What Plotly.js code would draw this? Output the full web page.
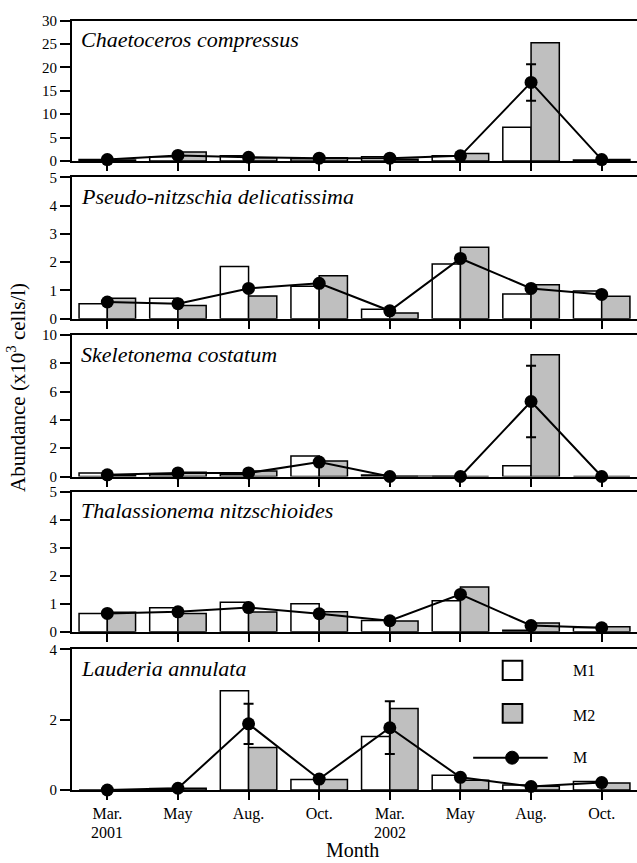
<!DOCTYPE html>
<html>
<head>
<meta charset="utf-8">
<script src="https://cdn.plot.ly/plotly-3.0.1.min.js"></script>
<style>html,body{margin:0;padding:0;background:#fff}#chart{width:637px;height:863px}</style>
</head>
<body>
<div id="chart"></div>
<script>
// Months (tick labels) and category positions
var months = ['Mar.','May','Aug.','Oct.','Mar.','May','Aug.','Oct.'];
var monthIndex = [0,1,2,3,4,5,6,7];
var years = ['2001','2002'];
var yearIndex = [0,4];

// Species names
var species = ['Chaetoceros compressus','Pseudo-nitzschia delicatissima','Skeletonema costatum','Thalassionema nitzschioides','Lauderia annulata'];

// Chaetoceros compressus
var chaeM1 = [0.3, 0.9, 1.1, 0.5, 0.9, 1.1, 7.2, 0.2];
var chaeM2 = [0.2, 1.9, 0.7, 0.7, 0.4, 1.6, 25.3, 0.3];
var chaeM  = [0.3, 1.2, 0.8, 0.6, 0.6, 1.1, 16.8, 0.3];
var chaeErr = [null, null, null, null, null, null, 3.9, null];

// Pseudo-nitzschia delicatissima
var pseuM1 = [0.53, 0.72, 1.85, 1.15, 0.33, 1.93, 0.87, 0.98];
var pseuM2 = [0.72, 0.47, 0.80, 1.52, 0.20, 2.53, 1.20, 0.79];
var pseuM  = [0.59, 0.53, 1.07, 1.25, 0.28, 2.13, 1.07, 0.86];
var pseuErr = [null, null, null, null, null, null, null, null];

// Skeletonema costatum
var skelM1 = [0.25, 0.15, 0.15, 1.44, 0.1, 0, 0.76, 0];
var skelM2 = [0.05, 0.30, 0.38, 1.09, 0, 0, 8.6, 0];
var skelM  = [0.12, 0.25, 0.25, 1.02, 0, 0, 5.3, 0];
var skelErr = [null, null, null, null, null, null, 2.53, null];

// Thalassionema nitzschioides
var thalM1 = [0.65, 0.85, 1.05, 1.00, 0.40, 1.10, 0.05, 0.15];
var thalM2 = [0.69, 0.65, 0.70, 0.71, 0.38, 1.59, 0.31, 0.18];
var thalM  = [0.65, 0.71, 0.86, 0.64, 0.39, 1.33, 0.22, 0.14];
var thalErr = [null, null, null, null, null, null, null, null];

// Lauderia annulata
var laudM1 = [0, 0.04, 2.82, 0.30, 1.52, 0.42, 0.14, 0.24];
var laudM2 = [0, 0.05, 1.21, 0.30, 2.32, 0.28, 0.11, 0.20];
var laudM  = [0, 0.05, 1.88, 0.31, 1.77, 0.36, 0.10, 0.21];
var laudErr = [null, null, 0.57, null, 0.75, null, null, null];

// Axis maxima and tick steps per panel
var yMax = [30, 5, 10, 5, 4];
var yStep = [5, 1, 2, 1, 2];

var panels = [
  [chaeM1, chaeM2, chaeM, chaeErr],
  [pseuM1, pseuM2, pseuM, pseuErr],
  [skelM1, skelM2, skelM, skelErr],
  [thalM1, thalM2, thalM, thalErr],
  [laudM1, laudM2, laudM, laudErr]
];

var H = 863;
// pixel positions (top, bottom) of each panel
var pix = [[20.7,161],[177.3,318.7],[335,476.5],[491.5,631.7],[649.3,790]];

var SERIF = '"Liberation Serif", "Times New Roman", Times, serif';
var traces = [];
var layout = {
  width: 637, height: 863,
  margin: {l: 72, r: 0, t: 0, b: 0},
  paper_bgcolor: '#fff', plot_bgcolor: '#fff',
  showlegend: false,
  barmode: 'group', bargap: 0.2, bargroupgap: 0,
  font: {family: SERIF, color: '#000', size: 15},
  annotations: [], shapes: []
};

panels.forEach(function(p, k) {
  var n = k + 1;
  var xa = 'x' + (n === 1 ? '' : n), ya = 'y' + (n === 1 ? '' : n);
  traces.push({type: 'bar', x: monthIndex, y: p[0], xaxis: xa, yaxis: ya, name: 'M1',
    marker: {color: '#ffffff', line: {color: '#000', width: 1.5}}});
  traces.push({type: 'bar', x: monthIndex, y: p[1], xaxis: xa, yaxis: ya, name: 'M2',
    marker: {color: '#bfbfbf', line: {color: '#000', width: 1.5}}});
  traces.push({type: 'scatter', mode: 'lines+markers', x: monthIndex, y: p[2], xaxis: xa, yaxis: ya, name: 'M',
    cliponaxis: false,
    line: {color: '#000', width: 2},
    marker: {color: '#000', size: 13},
    error_y: {type: 'data', array: p[3], visible: true, color: '#000', thickness: 2, width: 5}});

  var dom = [1 - pix[k][1] / H, 1 - pix[k][0] / H];
  layout['xaxis' + (n === 1 ? '' : n)] = {
    domain: [0, 1], anchor: ya, range: [-0.5, 7.5],
    tickvals: monthIndex, ticktext: months, showticklabels: n === 5,
    ticks: 'outside', ticklen: 8, tickwidth: 2, tickcolor: '#000',
    showline: true, linewidth: 2, linecolor: '#000', mirror: true,
    showgrid: false, zeroline: false, fixedrange: true,
    tickfont: {family: SERIF, size: 16, color: '#000'}
  };
  layout['yaxis' + (n === 1 ? '' : n)] = {
    domain: dom, anchor: xa, range: [0, yMax[k]], dtick: yStep[k], tick0: 0,
    ticks: 'outside', ticklen: 10, tickwidth: 2, tickcolor: '#000',
    showline: true, linewidth: 2, linecolor: '#000',
    showgrid: false, zeroline: false, fixedrange: true,
    tickfont: {family: SERIF, size: 15, color: '#000'}
  };
  layout.annotations.push({
    xref: xa + ' domain', yref: ya + ' domain', x: 0.013, y: 1 - 19 / 140,
    xanchor: 'left', yanchor: 'middle', showarrow: false,
    text: '<i>' + species[k] + '</i>', font: {family: SERIF, size: 22, color: '#000'}
  });
});

// Year labels under the month ticks
years.forEach(function(yr, i) {
  layout.annotations.push({xref: 'x5', yref: 'y5 domain', x: yearIndex[i], y: -(832 - 790) / 140.7,
    xanchor: 'center', yanchor: 'middle', showarrow: false,
    text: yr, font: {family: SERIF, size: 16, color: '#000'}});
});

// Legend drawn in the last panel
var lx = 'x5 domain', ly = 'y5 domain';
layout.shapes.push({type: 'rect', xref: lx, yref: ly, x0: 0.7623, x1: 0.797, y0: 0.782, y1: 0.919,
  line: {color: '#000', width: 2}, fillcolor: '#ffffff'});
layout.shapes.push({type: 'rect', xref: lx, yref: ly, x0: 0.7623, x1: 0.797, y0: 0.478, y1: 0.611,
  line: {color: '#000', width: 2}, fillcolor: '#bfbfbf'});
layout.shapes.push({type: 'line', xref: lx, yref: ly, x0: 0.710, x1: 0.842, y0: 0.2296, y1: 0.2296,
  line: {color: '#000', width: 2}});
layout.shapes.push({type: 'circle', xref: lx, yref: ly, xsizemode: 'pixel', ysizemode: 'pixel',
  xanchor: 0.779, yanchor: 0.2296, x0: -6.5, x1: 6.5, y0: -6.5, y1: 6.5,
  line: {color: '#000', width: 1}, fillcolor: '#000'});
[['M1', 0.848], ['M2', 0.533], ['M', 0.234]].forEach(function(t) {
  layout.annotations.push({xref: lx, yref: ly, x: 0.884, y: t[1], xanchor: 'left', yanchor: 'middle',
    showarrow: false, text: t[0], font: {family: SERIF, size: 16, color: '#000'}});
});

// Axis titles
layout.annotations.push({xref: 'paper', yref: 'paper', x: (16 - 72) / 565, y: 1 - 388 / H,
  xanchor: 'center', yanchor: 'middle', textangle: -90, showarrow: false,
  text: 'Abundance (x10<sup>3</sup> cells/l)', font: {family: SERIF, size: 21, color: '#000'}});
layout.annotations.push({xref: 'paper', yref: 'paper', x: (352 - 72) / 565, y: 1 - 850 / H,
  xanchor: 'center', yanchor: 'middle', showarrow: false,
  text: 'Month', font: {family: SERIF, size: 20, color: '#000'}});

Plotly.newPlot('chart', traces, layout, {displayModeBar: false, staticPlot: true});
</script>
</body>
</html>
